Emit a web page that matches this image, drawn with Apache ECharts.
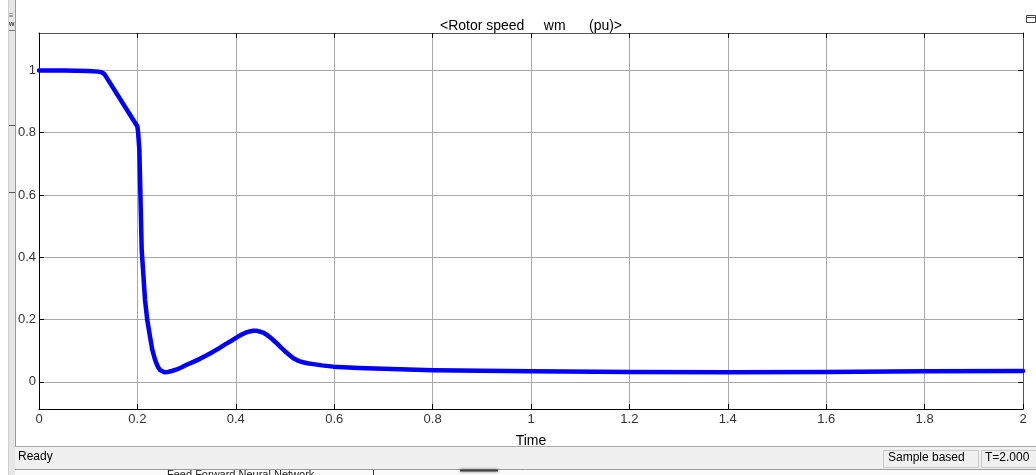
<!DOCTYPE html>
<html>
<head>
<meta charset="utf-8">
<script src="https://cdn.jsdelivr.net/npm/echarts@6/dist/echarts.min.js"></script>
<style>
html,body{margin:0;padding:0;background:#fff;}
#c{width:1036px;height:475px;}
</style>
</head>
<body>
<div id="c"></div>
<script>
// ---- data ----
const timeValues = [0, 0.05, 0.1, 0.12, 0.127, 0.133, 0.2, 0.2015, 0.204, 0.2087, 0.2155, 0.22, 0.2256, 0.2303, 0.236, 0.2395, 0.2425, 0.246, 0.25, 0.255, 0.262, 0.27, 0.28, 0.29, 0.3, 0.315, 0.327, 0.34, 0.354, 0.367, 0.38, 0.392, 0.402, 0.412, 0.42, 0.428, 0.435, 0.443, 0.45, 0.457, 0.463, 0.47, 0.477, 0.484, 0.49, 0.497, 0.503, 0.51, 0.517, 0.524, 0.53, 0.537, 0.545, 0.558, 0.575, 0.598, 0.65, 0.7, 0.8, 0.9, 1.0, 1.2, 1.4, 1.6, 1.8, 2.0];
const speedValues = [1.0, 1.0, 0.998, 0.996, 0.994, 0.988, 0.82, 0.80, 0.744, 0.424, 0.263, 0.199, 0.145, 0.103, 0.071, 0.056, 0.046, 0.038, 0.033, 0.031, 0.032, 0.035, 0.04, 0.047, 0.055, 0.065, 0.074, 0.085, 0.097, 0.109, 0.122, 0.133, 0.143, 0.152, 0.158, 0.162, 0.164, 0.164, 0.161, 0.157, 0.151, 0.143, 0.133, 0.123, 0.113, 0.103, 0.094, 0.085, 0.076, 0.07, 0.066, 0.063, 0.06, 0.057, 0.053, 0.049, 0.045, 0.042, 0.0375, 0.0355, 0.034, 0.032, 0.031, 0.032, 0.034, 0.035];
const yTicks = [0, 0.2, 0.4, 0.6, 0.8, 1];
const titleText = '<Rotor speed     wm      (pu)>';
const xAxisName = 'Time';
const statusLeft = 'Ready';
const statusMid = 'Sample based';
const statusRight = 'T=2.000';
const belowText = 'Feed Forward Neural Network';

const seriesData = timeValues.map((t, i) => [t, speedValues[i]]);
const FONT = '"Liberation Sans", Arial, sans-serif';

const chart = echarts.init(document.getElementById('c'), null, {renderer: 'canvas'});
chart.setOption({
  backgroundColor: '#ffffff',
  animation: false,
  title: {
    text: titleText, left: 526, top: 14, textAlign: 'center',
    textStyle: {fontFamily: FONT, fontSize: 14, fontWeight: 'normal', color: '#000'}
  },
  grid: {left: 39, top: 33, right: 13, bottom: 66, containLabel: false},
  xAxis: [{
    type: 'value', min: 0, max: 2, interval: 0.2, position: 'bottom',
    name: xAxisName, nameLocation: 'middle', nameGap: 25,
    nameTextStyle: {fontFamily: FONT, fontSize: 14, color: '#000'},
    axisLine: {show: true, onZero: false, lineStyle: {color: '#000', width: 1}},
    axisTick: {show: true, inside: true, length: 5, lineStyle: {color: '#000'}},
    axisLabel: {fontFamily: FONT, fontSize: 13, color: '#333', margin: 4, showMaxLabel: true, showMinLabel: true},
    splitLine: {show: true, lineStyle: {color: '#a8a8a8', width: 1}}
  }, {
    type: 'value', min: 0, max: 2, interval: 0.2, position: 'top',
    axisLine: {show: true, onZero: false, lineStyle: {color: '#555', width: 1}},
    axisTick: {show: true, inside: true, length: 5, lineStyle: {color: '#000'}},
    axisLabel: {show: false}, splitLine: {show: false}
  }],
  yAxis: [{
    type: 'value', min: -0.087, max: 1.12, position: 'left',
    axisLine: {show: true, onZero: false, lineStyle: {color: '#000', width: 1}},
    axisTick: {show: true, inside: true, length: 5, customValues: yTicks, lineStyle: {color: '#000'}},
    axisLabel: {fontFamily: FONT, fontSize: 13, color: '#333', margin: 3, customValues: yTicks},
    splitLine: {show: true, lineStyle: {color: '#a8a8a8', width: 1}}
  }, {
    type: 'value', min: -0.087, max: 1.12, position: 'right',
    axisLine: {show: true, onZero: false, lineStyle: {color: '#555', width: 1}},
    axisTick: {show: true, inside: true, length: 5, customValues: yTicks, lineStyle: {color: '#000'}},
    axisLabel: {show: false, customValues: yTicks}, splitLine: {show: false}
  }],
  series: [{
    type: 'line', data: seriesData, xAxisIndex: 0, yAxisIndex: 0,
    showSymbol: false, symbol: 'none', smooth: false,
    lineStyle: {color: '#0000ff', width: 4.5, join: 'round', cap: 'round'},
    z: 5
  }],
  graphic: [
    // left strip
    {type: 'rect', shape: {x: 8, y: 0, width: 8, height: 475}, style: {fill: '#e6e6e6', stroke: null}, silent: true},
    {type: 'line', shape: {x1: 8.5, y1: 0, x2: 8.5, y2: 475}, style: {stroke: '#cfcfcf', lineWidth: 1}},
    {type: 'line', shape: {x1: 15.5, y1: 0, x2: 15.5, y2: 475}, style: {stroke: '#9a9a9a', lineWidth: 1}},
    {type: 'line', shape: {x1: 9, y1: 30.5, x2: 15, y2: 30.5}, style: {stroke: '#777', lineWidth: 1}},
    {type: 'line', shape: {x1: 9, y1: 125.5, x2: 15, y2: 125.5}, style: {stroke: '#555', lineWidth: 1}},
    {type: 'line', shape: {x1: 9, y1: 192.5, x2: 15, y2: 192.5}, style: {stroke: '#555', lineWidth: 1}},
    {type: 'text', left: 9, top: 12, style: {text: '≡', fill: '#666', font: '8px sans-serif'}},
    {type: 'text', left: 9, top: 21, style: {text: 'w', fill: '#444', font: 'bold 7px sans-serif'}},
    // status bar
    {type: 'rect', shape: {x: 15, y: 446, width: 1021, height: 23}, style: {fill: '#f0f0f0', stroke: null}},
    {type: 'line', shape: {x1: 15, y1: 446.5, x2: 1036, y2: 446.5}, style: {stroke: '#a8a8a8', lineWidth: 1}},
    {type: 'line', shape: {x1: 15, y1: 469.5, x2: 1036, y2: 469.5}, style: {stroke: '#9a9a9a', lineWidth: 1}},
    {type: 'text', left: 18, top: 451, style: {text: statusLeft, font: '12px ' + FONT, fill: '#000'}},
    {type: 'rect', shape: {x: 883.5, y: 450.5, width: 95, height: 17}, style: {fill: '#f0f0f0', stroke: '#c8c8c8', lineWidth: 1}},
    {type: 'text', left: 888, top: 452, style: {text: statusMid, font: '12px ' + FONT, fill: '#000'}},
    {type: 'rect', shape: {x: 981.5, y: 450.5, width: 60, height: 17}, style: {fill: '#f0f0f0', stroke: '#c8c8c8', lineWidth: 1}},
    {type: 'text', left: 985, top: 452, style: {text: statusRight, font: '12px ' + FONT, fill: '#000'}},
    // below window
    {type: 'rect', shape: {x: 15, y: 470, width: 1021, height: 5}, style: {fill: '#fafafa'}},
    {type: 'text', left: 167, top: 469, style: {text: belowText, font: '11px ' + FONT, fill: '#222'}},
    {type: 'line', shape: {x1: 373.5, y1: 470, x2: 373.5, y2: 475}, style: {stroke: '#333', lineWidth: 1}},
    {type: 'line', shape: {x1: 460, y1: 470.5, x2: 498, y2: 470.5}, style: {stroke: '#444', lineWidth: 2, shadowBlur: 3, shadowColor: '#555'}},
    // top-right icon
    {type: 'rect', shape: {x: 1026.5, y: 15.5, width: 9, height: 7}, style: {fill: '#fff', stroke: '#444', lineWidth: 1}},
    {type: 'line', shape: {x1: 1027, y1: 17.5, x2: 1036, y2: 17.5}, style: {stroke: '#444', lineWidth: 1}}
  ]
});
</script>
</body>
</html>
